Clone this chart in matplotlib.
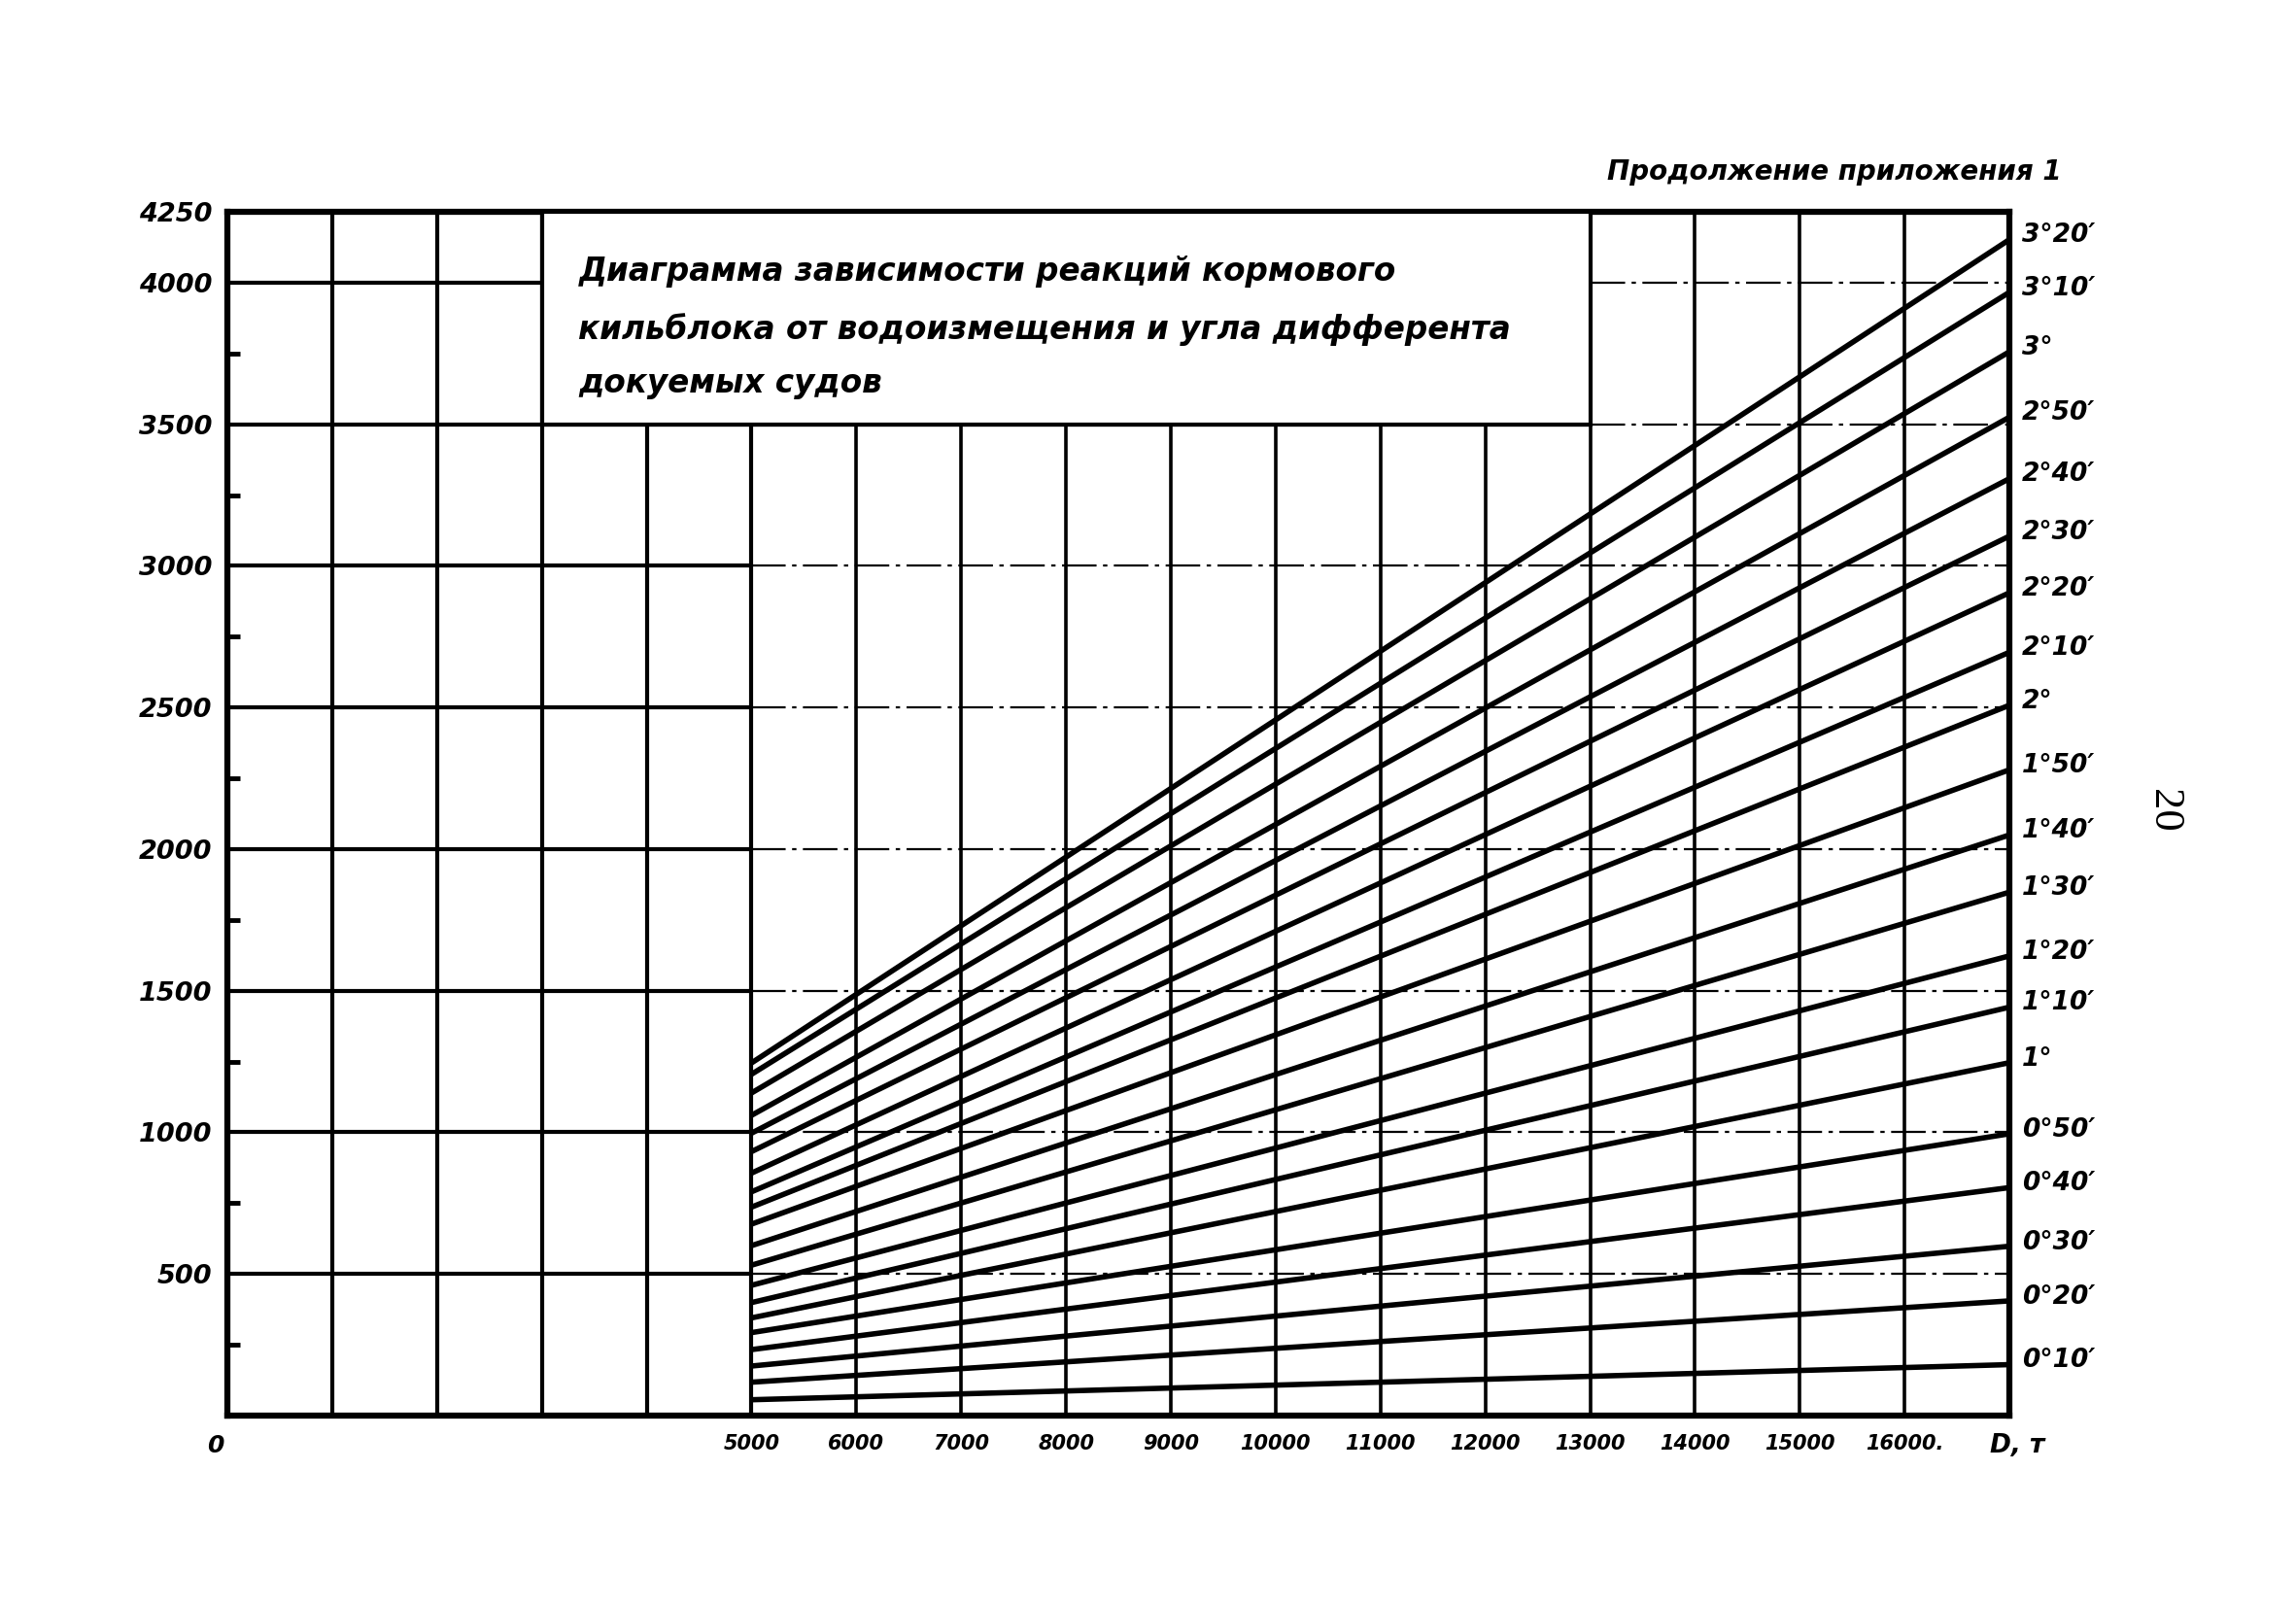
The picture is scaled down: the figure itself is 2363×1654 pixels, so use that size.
import matplotlib
matplotlib.use("Agg")
import matplotlib.pyplot as plt
from matplotlib import font_manager
from matplotlib.patches import Rectangle

# trim angles (labels at the right edge), bottom line first
angle_labels = ["0°10′", "0°20′", "0°30′", "0°40′", "0°50′", "1°", "1°10′", "1°20′",
                "1°30′", "1°40′", "1°50′", "2°", "2°10′", "2°20′", "2°30′", "2°40′",
                "2°50′", "3°", "3°10′", "3°20′"]
# displacement D, t where every line starts and ends
displacement = [5000, 17000]
# keel block reaction at D = 5000 t and at D = 17000 t
reaction_start = [56, 118, 175, 233, 293, 345, 399, 460, 531, 600,
                  676, 736, 790, 856, 932, 997, 1060, 1139, 1205, 1245]
reaction_end = [180, 405, 598, 805, 995, 1246, 1442, 1623, 1848, 2050,
                2280, 2508, 2695, 2905, 3105, 3308, 3525, 3756, 3966, 4152]

y_ticks = [500, 1000, 1500, 2000, 2500, 3000, 3500, 4000, 4250]
y_minor = [250, 750, 1250, 1750, 2250, 2750, 3250, 3750]
x_ticks = [5000, 6000, 7000, 8000, 9000, 10000, 11000, 12000, 13000, 14000, 15000, 16000]
x_tick_labels = ["5000", "6000", "7000", "8000", "9000", "10000", "11000", "12000",
                 "13000", "14000", "15000", "16000."]

title_lines = ["Диаграмма зависимости реакций кормового",
               "кильблока от водоизмещения и угла дифферента",
               "докуемых судов"]

# narrow font if we have it, otherwise DejaVu a bit smaller
names = {f.name for f in font_manager.fontManager.ttflist}
if "Liberation Sans Narrow" in names:
    fam = ["Liberation Sans Narrow", "DejaVu Sans"]
    k = 1.28
else:
    fam = ["DejaVu Sans"]
    k = 1.0
plt.rcParams["font.family"] = fam

fig = plt.figure(figsize=(23.63, 16.54), dpi=100)
fig.patch.set_facecolor("white")
ax = fig.add_axes([0.0990, 0.1191, 0.7762, 0.7491])
ax.set_xlim(0, 17000)
ax.set_ylim(0, 4250)

for s in ax.spines.values():
    s.set_linewidth(4.5)

# vertical grid, the ones under the title box stop at 3500
for x in range(1000, 17000, 1000):
    top = 3500 if 3000 < x < 13000 else 4250
    ax.vlines(x, 0, top, color="black", lw=3.0 if x <= 5000 else 2.6)

# horizontal grid: solid on the left, dash-dot to the right of 5000
dd = (0, (16, 3, 2, 3))
for y in range(500, 3001, 500):
    ax.hlines(y, 0, 5000, color="black", lw=3.0)
    ax.hlines(y, 5000, 17000, color="black", lw=1.6, linestyles=[dd])
ax.hlines(3500, 0, 13000, color="black", lw=3.0)
ax.hlines(3500, 13000, 17000, color="black", lw=1.6, linestyles=[dd])
ax.hlines(4000, 0, 3000, color="black", lw=3.0)
ax.hlines(4000, 13000, 17000, color="black", lw=1.6, linestyles=[dd])

# title box
ax.add_patch(Rectangle((3000, 3500), 10000, 750, facecolor="white",
                       edgecolor="black", lw=3.0, zorder=3))
title_y = [4040, 3835, 3645]
for t, yy in zip(title_lines, title_y):
    ax.text(3350, yy, t, fontsize=23.5 * k, style="italic", fontweight="bold",
            va="center", ha="left", zorder=4)

# reaction lines
for i in range(len(angle_labels)):
    ax.plot(displacement, [reaction_start[i], reaction_end[i]], color="black",
            lw=4.0, solid_capstyle="butt", zorder=5)
    ax.annotate(angle_labels[i], xy=(17000, reaction_end[i]), xytext=(9, 3),
                textcoords="offset points", ha="left", va="center",
                fontsize=19 * k, style="italic", fontweight="bold",
                annotation_clip=False)

# axes ticks and labels
ax.set_yticks(y_ticks)
ax.set_yticklabels([str(v) for v in y_ticks])
ax.set_yticks(y_minor, minor=True)
ax.set_xticks(x_ticks)
ax.set_xticklabels(x_tick_labels)
ax.tick_params(axis="both", which="major", length=0)
ax.tick_params(axis="y", which="major", pad=11, labelsize=19.5 * k)
ax.tick_params(axis="x", which="major", pad=14, labelsize=15 * k)
ax.tick_params(axis="y", which="minor", direction="in", length=9, width=3.5)
for lab in ax.get_xticklabels() + ax.get_yticklabels():
    lab.set_style("italic")
    lab.set_fontweight("bold")

ax.annotate("0", xy=(0, 0), xytext=(-9, -14), textcoords="offset points",
            ha="center", va="top", fontsize=18 * k, style="italic",
            fontweight="bold", annotation_clip=False)
ax.annotate("D, т", xy=(17000, 0), xytext=(6, -13), textcoords="offset points",
            ha="center", va="top", fontsize=19 * k, style="italic",
            fontweight="bold", annotation_clip=False)

fig.text(0.898, 0.893, "Продолжение приложения 1", ha="right", va="center",
         fontsize=20 * k, style="italic", fontweight="bold")
fig.text(0.9426, 0.4954, "20", rotation=-90, ha="center", va="center",
         fontsize=32, family=["Liberation Serif", "DejaVu Serif"])

fig.savefig("out.png", dpi=100, facecolor="white")
